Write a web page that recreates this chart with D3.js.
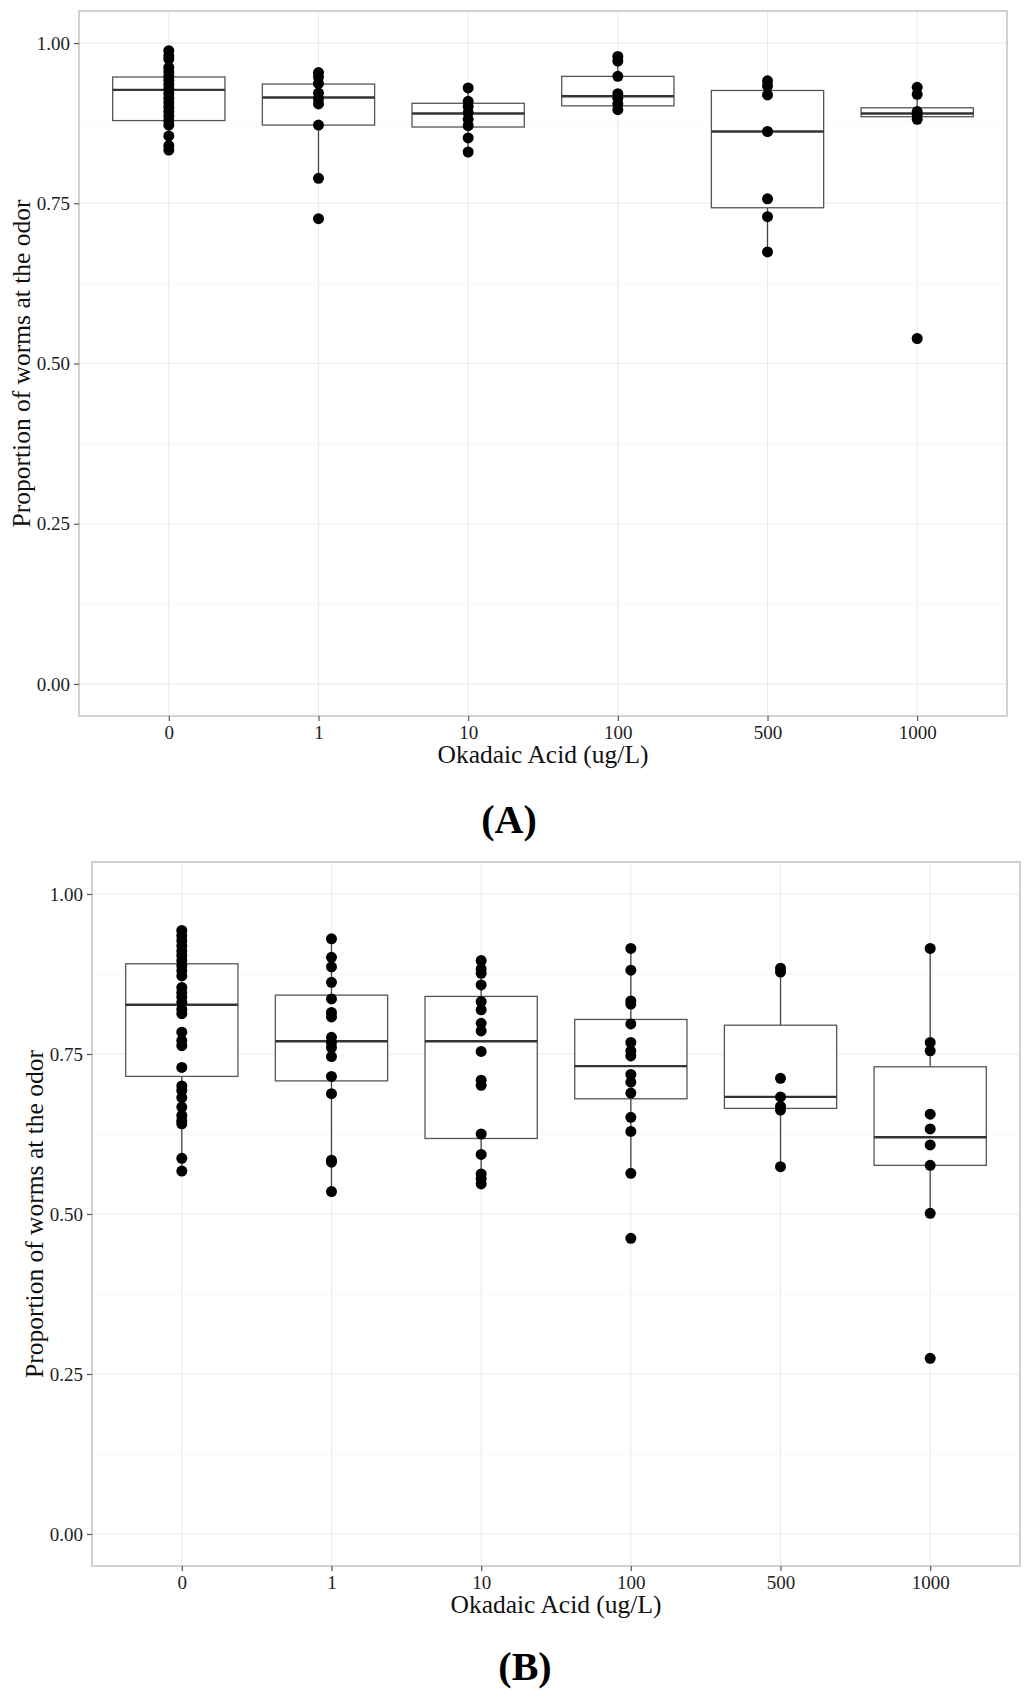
<!DOCTYPE html>
<html>
<head>
<meta charset="utf-8">
<script src="https://cdn.jsdelivr.net/npm/d3@7"></script>
<style>
  html, body { margin: 0; padding: 0; background: #ffffff; }
  svg { display: block; }
  text { font-family: "Liberation Serif", "DejaVu Serif", serif; }
</style>
</head>
<body>
<script>
// ---------- data ----------
const categories = ["0", "1", "10", "100", "500", "1000"];
const yTicks = [0, 0.25, 0.5, 0.75, 1.0];
const yMinorTicks = [0.125, 0.375, 0.625, 0.875];
const xTitle = "Okadaic Acid (ug/L)";
const yTitle = "Proportion of worms at the odor";

// Panel A: individual observations per dose
const pointsA = [
  [0.988, 0.980, 0.975, 0.962, 0.955, 0.948, 0.942, 0.935, 0.928, 0.921, 0.914, 0.907, 0.900, 0.893, 0.886, 0.879, 0.872, 0.855, 0.840, 0.833],
  [0.954, 0.947, 0.937, 0.922, 0.913, 0.905, 0.872, 0.789, 0.726],
  [0.930, 0.909, 0.901, 0.891, 0.881, 0.871, 0.852, 0.830],
  [0.979, 0.972, 0.948, 0.921, 0.914, 0.905, 0.896],
  [0.941, 0.933, 0.919, 0.862, 0.757, 0.729, 0.674],
  [0.931, 0.920, 0.893, 0.888, 0.881, 0.539]
];
// Panel A box statistics
const q1A  = [0.879, 0.872, 0.869, 0.902, 0.743, 0.885];
const medA = [0.927, 0.915, 0.890, 0.917, 0.862, 0.890];
const q3A  = [0.947, 0.936, 0.906, 0.948, 0.926, 0.899];
const loA  = [0.833, 0.789, 0.830, 0.896, 0.674, 0.881];
const hiA  = [0.988, 0.954, 0.930, 0.979, 0.941, 0.920];

// Panel B: individual observations per dose
const pointsB = [
  [0.943, 0.935, 0.927, 0.919, 0.911, 0.904, 0.896, 0.888, 0.880, 0.872, 0.854, 0.846, 0.839, 0.831, 0.820, 0.813, 0.784, 0.771, 0.763, 0.729, 0.700, 0.693, 0.682, 0.667, 0.654, 0.646, 0.641, 0.587, 0.567],
  [0.930, 0.901, 0.886, 0.862, 0.836, 0.815, 0.808, 0.776, 0.768, 0.760, 0.746, 0.715, 0.688, 0.584, 0.581, 0.535],
  [0.896, 0.883, 0.876, 0.858, 0.832, 0.819, 0.798, 0.786, 0.754, 0.709, 0.701, 0.625, 0.593, 0.5625, 0.555, 0.547],
  [0.915, 0.881, 0.833, 0.828, 0.797, 0.768, 0.755, 0.747, 0.718, 0.706, 0.689, 0.651, 0.629, 0.5635, 0.462],
  [0.884, 0.878, 0.712, 0.683, 0.668, 0.6625, 0.574],
  [0.915, 0.768, 0.755, 0.656, 0.633, 0.608, 0.576, 0.501, 0.2745]
];
// Panel B box statistics
const q1B  = [0.715, 0.708, 0.618, 0.680, 0.665, 0.576];
const medB = [0.827, 0.770, 0.770, 0.731, 0.683, 0.620];
const q3B  = [0.891, 0.842, 0.840, 0.804, 0.795, 0.730];
const loB  = [0.567, 0.535, 0.547, 0.5635, 0.574, 0.501];
const hiB  = [0.943, 0.930, 0.896, 0.915, 0.884, 0.915];

// ---------- drawing ----------
const svg = d3.select("body").append("svg")
  .attr("width", 1024).attr("height", 1701);
svg.append("rect").attr("width", 1024).attr("height", 1701).attr("fill", "#fff");

function drawPanel(cfg) {
  const { left, right, top, bottom, points, q1, med, q3, lo, hi, label, labelX, labelY, yTitleX } = cfg;
  const g = svg.append("g");

  const x = d3.scalePoint().domain(categories).range([left, right]).padding(0.6);
  const y = d3.scaleLinear().domain([-0.05, 1.05]).range([bottom, top]);
  const boxW = x.step() * 0.75;

  // minor grid
  g.append("g").selectAll("line").data(yMinorTicks).join("line")
    .attr("x1", left).attr("x2", right)
    .attr("y1", d => y(d)).attr("y2", d => y(d))
    .attr("stroke", "#f7f7f7").attr("stroke-width", 1);
  // major grid
  g.append("g").selectAll("line").data(yTicks).join("line")
    .attr("x1", left).attr("x2", right)
    .attr("y1", d => y(d)).attr("y2", d => y(d))
    .attr("stroke", "#ececec").attr("stroke-width", 1.2);
  g.append("g").selectAll("line").data(categories).join("line")
    .attr("x1", d => x(d)).attr("x2", d => x(d))
    .attr("y1", top).attr("y2", bottom)
    .attr("stroke", "#ececec").attr("stroke-width", 1.2);

  const stats = categories.map((c, i) => ({ c, q1: q1[i], med: med[i], q3: q3[i], lo: lo[i], hi: hi[i] }));
  const bx = g.append("g").selectAll("g").data(stats).join("g");
  // whiskers
  bx.append("line")
    .attr("x1", d => x(d.c)).attr("x2", d => x(d.c))
    .attr("y1", d => y(d.q3)).attr("y2", d => y(d.hi))
    .attr("stroke", "#444").attr("stroke-width", 1.3);
  bx.append("line")
    .attr("x1", d => x(d.c)).attr("x2", d => x(d.c))
    .attr("y1", d => y(d.q1)).attr("y2", d => y(d.lo))
    .attr("stroke", "#444").attr("stroke-width", 1.3);
  // box
  bx.append("rect")
    .attr("x", d => x(d.c) - boxW / 2).attr("width", boxW)
    .attr("y", d => y(d.q3)).attr("height", d => y(d.q1) - y(d.q3))
    .attr("fill", "#fff").attr("stroke", "#555").attr("stroke-width", 1.3);
  // median
  bx.append("line")
    .attr("x1", d => x(d.c) - boxW / 2).attr("x2", d => x(d.c) + boxW / 2)
    .attr("y1", d => y(d.med)).attr("y2", d => y(d.med))
    .attr("stroke", "#333").attr("stroke-width", 2.4);

  // points
  const pts = [];
  points.forEach((arr, i) => arr.forEach(v => pts.push({ c: categories[i], v })));
  g.append("g").selectAll("circle").data(pts).join("circle")
    .attr("cx", d => x(d.c)).attr("cy", d => y(d.v))
    .attr("r", 5.5).attr("fill", "#000");

  // panel border
  g.append("rect")
    .attr("x", left).attr("y", top)
    .attr("width", right - left).attr("height", bottom - top)
    .attr("fill", "none").attr("stroke", "#c4c4c4").attr("stroke-width", 1.5);

  // axes
  const yAxis = g.append("g").attr("transform", `translate(${left},0)`)
    .call(d3.axisLeft(y).tickValues(yTicks).tickFormat(d3.format(".2f")).tickSize(5).tickPadding(4));
  yAxis.select(".domain").remove();
  yAxis.selectAll("line").attr("stroke", "#555").attr("stroke-width", 1.2);
  yAxis.selectAll("text").attr("font-size", 19).attr("fill", "#222")
    .attr("font-family", "Liberation Serif");

  const xAxis = g.append("g").attr("transform", `translate(0,${bottom})`)
    .call(d3.axisBottom(x).tickSize(5).tickPadding(5));
  xAxis.select(".domain").remove();
  xAxis.selectAll("line").attr("stroke", "#555").attr("stroke-width", 1.2);
  xAxis.selectAll("text").attr("font-size", 19).attr("fill", "#222")
    .attr("font-family", "Liberation Serif");

  // axis titles
  g.append("text")
    .attr("x", (left + right) / 2).attr("y", bottom + 47)
    .attr("text-anchor", "middle").attr("font-size", 25.5).attr("fill", "#111")
    .text(xTitle);
  g.append("text")
    .attr("transform", `translate(${yTitleX},${(top + bottom) / 2}) rotate(-90)`)
    .attr("text-anchor", "middle").attr("font-size", 25.5).attr("fill", "#111")
    .text(yTitle);

  // panel label
  g.append("text")
    .attr("x", labelX).attr("y", labelY)
    .attr("text-anchor", "middle").attr("font-size", 40).attr("font-weight", "bold")
    .attr("fill", "#000")
    .text(label);
}

drawPanel({ left: 79, right: 1007, top: 11, bottom: 716,
  points: pointsA, q1: q1A, med: medA, q3: q3A, lo: loA, hi: hiA,
  label: "(A)", labelX: 509, labelY: 833, yTitleX: 30 });

drawPanel({ left: 92, right: 1020, top: 862, bottom: 1566,
  points: pointsB, q1: q1B, med: medB, q3: q3B, lo: loB, hi: hiB,
  label: "(B)", labelX: 525, labelY: 1680, yTitleX: 43 });
</script>
</body>
</html>
